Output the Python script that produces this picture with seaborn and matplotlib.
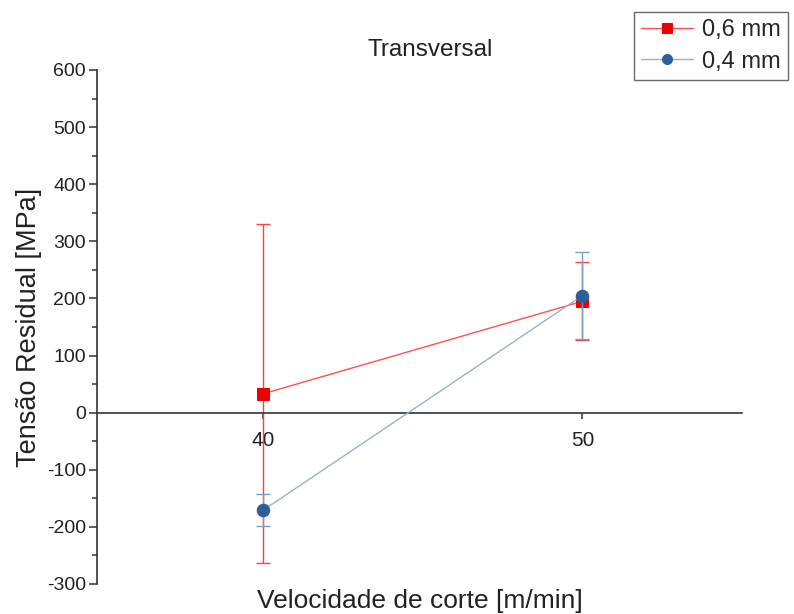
import matplotlib
matplotlib.use("Agg")
import matplotlib.pyplot as plt
import seaborn as sns
import pandas as pd
import numpy as np
from matplotlib.ticker import MultipleLocator

velocidade = [40, 50]
series_labels = ["0,6 mm", "0,4 mm"]
tensao_06 = [33, 195]
erro_06 = [297, 68]
tensao_04 = [-171, 205]
erro_04 = [28, 76]

sns.set_theme(style="white")
plt.rcParams['font.family'] = ['Liberation Sans', 'DejaVu Sans']
plt.rcParams['axes.unicode_minus'] = False

fig = plt.figure(figsize=(7.94, 6.14), dpi=100)
ax = fig.add_axes([97/794, 1-584/614, (742-97)/794, (584-70)/614])

df = pd.DataFrame({
    "v": velocidade * 2,
    "t": tensao_06 + tensao_04,
    "serie": [series_labels[0]] * 2 + [series_labels[1]] * 2,
})

red_line = "#ff5050"
red_mk = "#ee0000"
blue_line = "#9ab0cf"
blue_mk = "#2f5f98"

ax.errorbar(velocidade, tensao_06, yerr=erro_06, fmt='none', ecolor="#ff4040",
            elinewidth=1.0, capsize=5, capthick=1.0, zorder=2)
sns.lineplot(data=df[df.serie == series_labels[0]], x="v", y="t", ax=ax,
             color=red_line, linewidth=1.0, marker="s", markersize=9,
             markerfacecolor=red_mk, markeredgecolor=red_mk, label=series_labels[0], zorder=3)
ax.errorbar(velocidade, tensao_04, yerr=erro_04, fmt='none', ecolor="#7f9cc3",
            elinewidth=1.0, capsize=5, capthick=1.0, zorder=4)
sns.lineplot(data=df[df.serie == series_labels[1]], x="v", y="t", ax=ax,
             color=blue_line, linewidth=1.0, marker="o", markersize=9,
             markerfacecolor=blue_mk, markeredgecolor=blue_mk, label=series_labels[1], zorder=5)

ax.set_xlim(34.8, 55)
ax.set_ylim(-300, 600)
ax.set_xticks(velocidade)
ax.set_xticklabels([str(v) for v in velocidade])
ax.yaxis.set_major_locator(MultipleLocator(100))
ax.yaxis.set_minor_locator(MultipleLocator(50))

for s in ["top", "right"]:
    ax.spines[s].set_visible(False)
ax.spines["bottom"].set_position(("data", 0))
for s in ["left", "bottom"]:
    ax.spines[s].set_color("#333333")
    ax.spines[s].set_linewidth(1.2)

ax.tick_params(axis="y", which="major", direction="out", length=6, width=1.1,
               color="#333333", labelsize=14, labelcolor="#222222", left=True, pad=2)
ax.tick_params(axis="y", which="minor", direction="out", length=3.5, width=1.1,
               color="#333333", left=True)
ax.tick_params(axis="x", which="major", direction="out", length=4, width=1.1,
               color="#333333", labelsize=15, labelcolor="#222222", bottom=True, pad=9)

ax.set_xlabel("Velocidade de corte [m/min]", fontsize=19, color="#222222")
ax.xaxis.set_label_coords(0.5, -0.034)
ax.xaxis.label.set_va("center")
ax.set_ylabel("Tensão Residual [MPa]", fontsize=19.5, color="#222222")
ax.yaxis.set_label_coords(-(97-29)/(742-97), 0.5)
ax.yaxis.label.set_va("center")

ax.set_title("Transversal", fontsize=17.5, color="#222222", x=(430-97)/(742-97), pad=10)

leg = ax.legend(loc="upper right", bbox_to_anchor=(788/794, 1-12/614),
                bbox_transform=fig.transFigure, fontsize=17, frameon=True,
                fancybox=False, edgecolor="#444444", handlelength=2.2,
                borderpad=0.3, labelspacing=0.4, handletextpad=0.4,
                borderaxespad=0, markerscale=0.8)
leg.get_frame().set_linewidth(1.0)

ax.grid(False)
fig.savefig("out.png", dpi=100)
